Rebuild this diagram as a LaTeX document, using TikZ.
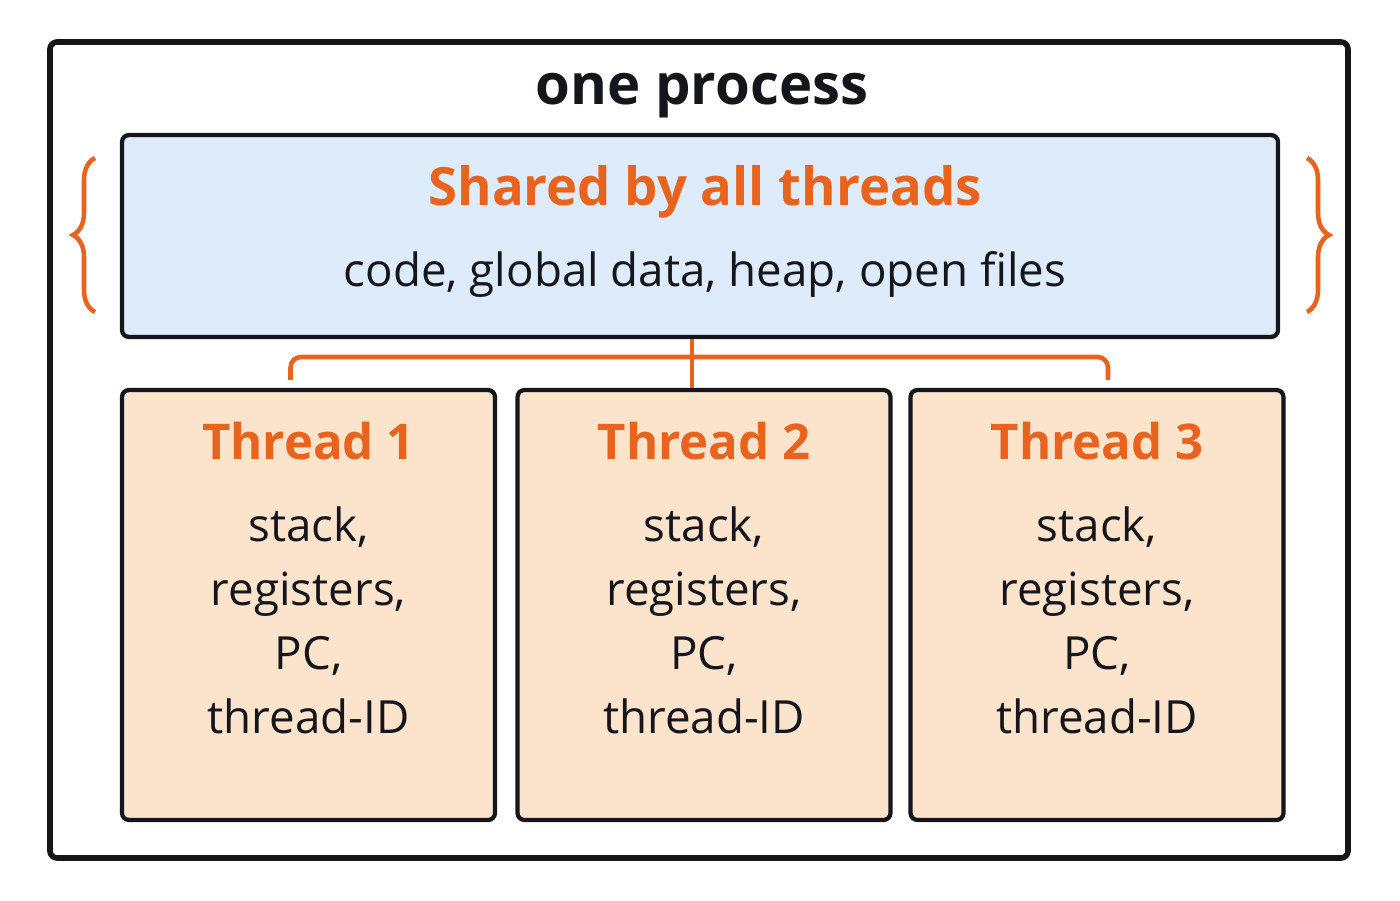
\documentclass[tikz,border=0pt]{standalone}
\usepackage{fontspec}
\setmainfont{Open Sans}
\usetikzlibrary{positioning,decorations.pathreplacing}
\definecolor{accent}{HTML}{E8641E}
\definecolor{sharedfill}{HTML}{DDEBFA}
\definecolor{threadfill}{HTML}{FBE3CC}
\definecolor{ink}{HTML}{14161C}
\tikzset{
  box/.style={draw=ink,line width=1.2pt,rounded corners=2pt},
  tbox/.style={box,fill=threadfill,minimum width=3.73cm,minimum height=4.3cm},
  ttitle/.style={text=accent,font=\fontsize{14}{17}\selectfont\bfseries},
  tbody/.style={text=ink,font=\fontsize{13}{18.2}\selectfont,align=center},
  link/.style={draw=accent,line width=1.3pt},
}
\begin{document}
\begin{tikzpicture}
\useasboundingbox (0,0) rectangle (14,9);
\draw[box,line width=1.6pt] (0.5,0.42) rectangle (13.48,8.58);
\node[text=ink,font=\fontsize{16}{19}\selectfont\bfseries] (title) at (7.02,8.04) {one process};
\node[box,fill=sharedfill,minimum width=11.56cm,minimum height=2.02cm] (shared) at (7,6.64) {};
\node[ttitle,font=\fontsize{15}{18}\selectfont\bfseries] (sharedtitle) at (7.05,7.08) {Shared by all threads};
\node[tbody] (sharedbody) at (7.05,6.25) {code, global data, heap, open files};
% braces
\draw[link,decorate,decoration={brace,amplitude=0.22cm}] (0.95,5.88) -- (0.95,7.42);
\draw[link,decorate,decoration={brace,amplitude=0.22cm}] (13.07,7.42) -- (13.07,5.88);
% threads
\foreach \n/\x in {1/3.085,2/7.04,3/10.97}{
  \node[tbox] (t\n) at (\x,2.95) {};
  \node[ttitle] (t\n title) at ([yshift=-0.53cm]t\n.north) {Thread \n};
  \node[tbody,below=0.22cm of t\n title] (t\n body) {stack,\\registers,\\PC,\\thread-ID};
}
% connectors
\coordinate (bar) at (6.92,5.43);
\draw[link] (shared.south -| bar) -- (t2.north -| bar);
\draw[link,rounded corners=3pt] ([xshift=-1.8mm]t1.north) ++(0,0.08) |- (bar) -| ([xshift=1.1mm,yshift=0.8mm]t3.north);
\end{tikzpicture}
\end{document}
